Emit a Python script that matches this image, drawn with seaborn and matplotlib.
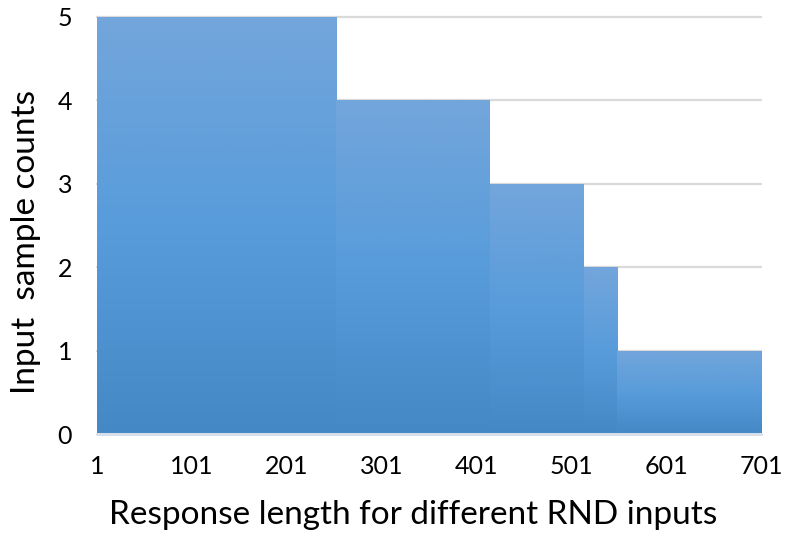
import numpy as np
import pandas as pd
import seaborn as sns
import matplotlib
matplotlib.use("Agg")
import matplotlib.pyplot as plt
from matplotlib.colors import LinearSegmentedColormap

# Data
bin_edges = [1, 253, 415, 514, 549, 701]
sample_counts = [5, 4, 3, 2, 1]
x_ticks = [1, 101, 201, 301, 401, 501, 601, 701]
y_ticks = [0, 1, 2, 3, 4, 5]
x_label = "Response length for different RND inputs"
y_label = "Input  sample counts"

sns.set_style("white")
plt.rcParams['font.family'] = ['Lato', 'DejaVu Sans']

df = pd.DataFrame({"left": bin_edges[:-1], "count": sample_counts})

fig = plt.figure(figsize=(7.9, 5.41), dpi=100)
ax = fig.add_axes([97/790, 1-434/541, (761-97)/790, (434-17)/541])

sns.histplot(data=df, x="left", weights="count", bins=bin_edges, ax=ax,
             stat="count", element="bars", fill=True, linewidth=0,
             color="#5B9BD5", alpha=1.0, zorder=2)

cmap = LinearSegmentedColormap.from_list(
    "grad", [(0.0, "#73A6DB"), (0.5, "#589CDB"), (1.0, "#4588C6")])
grad = np.linspace(0, 1, 256).reshape(-1, 1)
for p in list(ax.patches):
    x0, y0 = p.get_x(), p.get_y()
    w, h = p.get_width(), p.get_height()
    p.set_facecolor("none")
    im = ax.imshow(grad, cmap=cmap, aspect="auto",
                   extent=[x0, x0 + w, y0, y0 + h], origin="upper", zorder=2)
    im.set_clip_path(p)

ax.set_xlim(bin_edges[0], bin_edges[-1])
ax.set_ylim(0, 5)
ax.set_xticks(x_ticks)
ax.set_yticks(y_ticks)
ax.set_xticklabels([str(t) for t in x_ticks])
ax.set_yticklabels([str(t) for t in y_ticks])

for yv in y_ticks[1:]:
    ax.axhline(yv, color="#D9D9D9", lw=1.6, zorder=1, clip_on=False)
ax.axhline(0, color="#D6DFEA", lw=2.2, zorder=3, clip_on=False)

for s in ax.spines.values():
    s.set_visible(False)

ax.tick_params(axis="both", length=0, labelsize=18, colors="black")
ax.tick_params(axis="y", pad=18)
ax.tick_params(axis="x", pad=15)
ax.set_xlabel(x_label, fontsize=24, color="black", va="center")
ax.set_ylabel(y_label, fontsize=24, color="black", va="center")
ax.xaxis.set_label_coords(316/664, (434-515)/417)
ax.yaxis.set_label_coords((26-97)/664, (434-242)/417)

fig.savefig("out.png", dpi=100)
